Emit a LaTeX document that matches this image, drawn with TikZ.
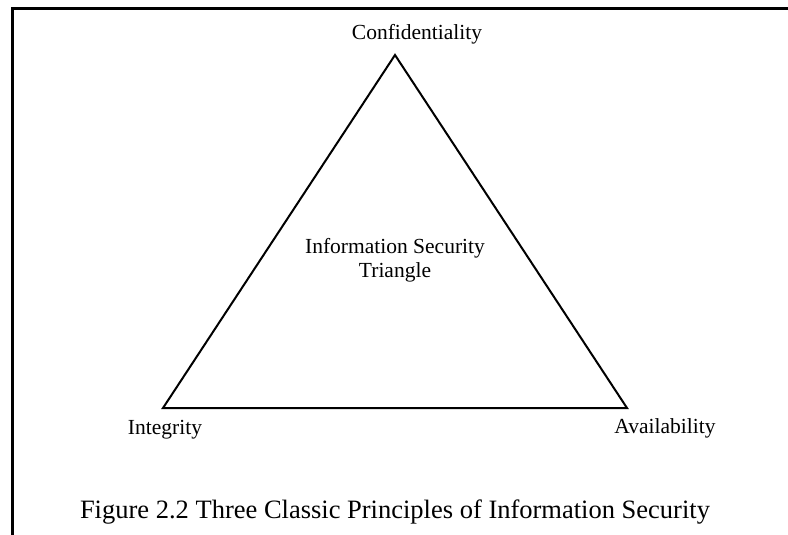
\documentclass[tikz,border=0pt]{standalone}
\usepackage{fontspec}
\setmainfont{Liberation Serif}
\usepackage{tikz}

\begin{document}
\begin{tikzpicture}[
    x=1pt, y=-1pt,
    every node/.style={inner sep=0pt, anchor=base},
    lbl/.style={font=\fontsize{21.5}{25}\selectfont},
    figcap/.style={font=\fontsize{26.5}{30}\selectfont},
    edge/.style={line width=2pt, line join=miter},
    frame/.style={line width=3pt},
]
\useasboundingbox (0,0) rectangle (788,535);

%% Frame (cut at right and bottom)
\draw[frame] (12,535) -- (12,9) -- (788,9);

%% Corners of the triangle
\coordinate (top)   at (395,55);
\coordinate (left)  at (163,408);
\coordinate (right) at (627,408);

\draw[edge] (top) -- (right) -- (left) -- cycle;

%% Labels
\node[lbl]    (conf)  at (417,40)  {Confidentiality};
\node[lbl]    (integ) at (165,434) {Integrity};
\node[lbl]    (avail) at (665,433) {Availability};
\node[lbl]    (info)  at (395,253) {Information Security};
\node[lbl]    (tri)   at (395,277) {Triangle};

%% Caption
\node[figcap] (fig)   at (395,518) {Figure 2.2 Three Classic Principles of Information Security};

\end{tikzpicture}
\end{document}
